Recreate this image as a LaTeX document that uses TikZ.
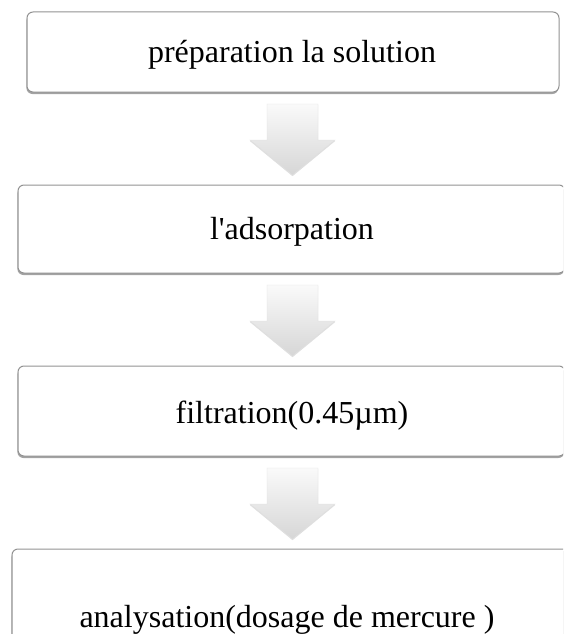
\documentclass[tikz,border=0pt]{standalone}
\usepackage{fontspec}
\setmainfont{Liberation Serif}
\usetikzlibrary{shadows,calc}
\begin{document}
\begin{tikzpicture}[x=1pt,y=-1pt,
  box/.style={draw=gray!85, line width=1pt, fill=white, rounded corners=6pt,
    drop shadow={shadow xshift=-0.6pt, shadow yshift=-2pt, opacity=0.6, fill=gray!80!black}},
  lbl/.style={font=\fontsize{32}{38}\selectfont, inner sep=0pt, anchor=base},
  blockarrow/.style={draw=gray!25, line width=0.4pt, top color=gray!4, bottom color=gray!32,
    drop shadow={shadow xshift=0pt, shadow yshift=-1.2pt, opacity=0.25}}]
\useasboundingbox (0,0) rectangle (563,634);
\begin{scope}
\clip (0,0) rectangle (563,634);
% boxes
\path[box] (27,12) rectangle (559,92);
\node[lbl] (t1) at (292,63) {préparation la solution};
\path[box] (18,185) rectangle (565,273);
\node[lbl] (t2) at (292,239) {l\textquotesingle adsorpation};
\path[box] (18,366) rectangle (565,456);
\node[lbl] (t3) at (292,423) {filtration(0.45µm)};
\path[box] (12,549) rectangle (580,683);
\node[lbl] (t4) at (287,627) {analysation(dosage de mercure )};
% block arrows
\coordinate (a1) at (292.5,104);
\coordinate (a2) at (292.5,285);
\coordinate (a3) at (292.5,468);
\foreach \a in {a1,a2,a3}{
  \path[blockarrow] ($(\a)+(-25.5,0)$) -- ($(\a)+(25.5,0)$) -- ($(\a)+(25.5,36)$)
    -- ($(\a)+(42.5,36)$) -- ($(\a)+(0,71)$) -- ($(\a)+(-42.5,36)$)
    -- ($(\a)+(-25.5,36)$) -- cycle;
}
\end{scope}
\end{tikzpicture}
\end{document}
